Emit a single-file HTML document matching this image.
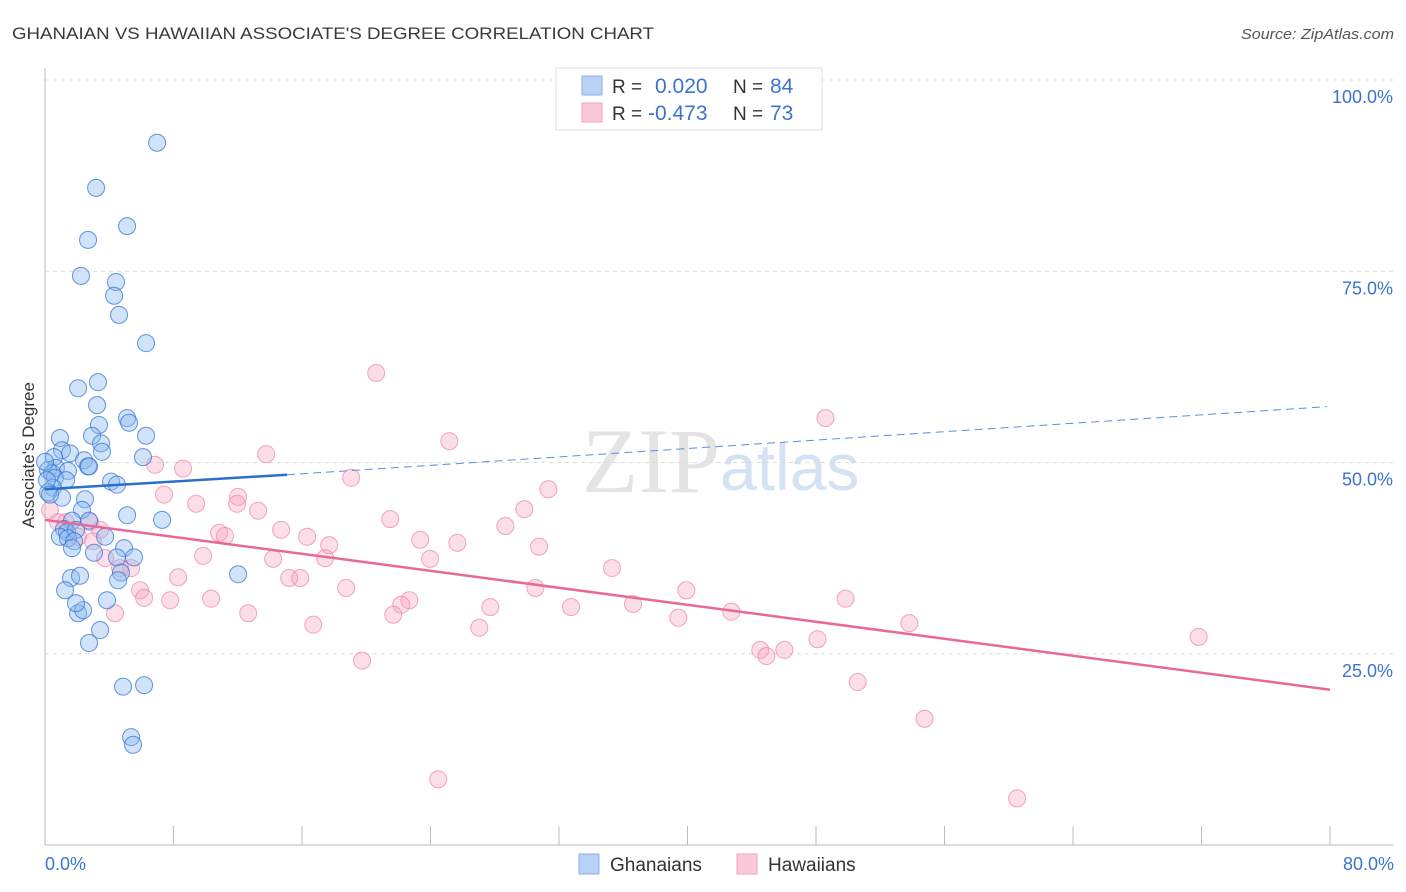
<!DOCTYPE html>
<html><head><meta charset="utf-8"><style>
body{margin:0;background:#fff;font-family:"Liberation Sans",sans-serif;}
#wrap{position:relative;width:1406px;height:892px;overflow:hidden;}
</style></head><body>
<div id="wrap">
<svg id="chart" width="1406" height="892" style="position:absolute;left:0;top:0">
<text x="12" y="39" font-size="17" fill="#3a3a3a" textLength="642" lengthAdjust="spacingAndGlyphs">GHANAIAN VS HAWAIIAN ASSOCIATE'S DEGREE CORRELATION CHART</text>
<text x="1394" y="39" font-size="15" fill="#555" font-style="italic" text-anchor="end" textLength="153" lengthAdjust="spacingAndGlyphs">Source: ZipAtlas.com</text>
<text x="720" y="492" font-size="92" fill="#e4e4e4" text-anchor="end" font-family="Liberation Serif, serif">ZIP</text>
<text x="720" y="490" font-size="66" fill="#d4e2f4">atlas</text>
<g id="grid"></g>
<g id="axes"></g>
<g id="pts"></g>
<g id="trend"></g>
<text x="34" y="455" font-size="17" fill="#333" text-anchor="middle" transform="rotate(-90 34 455)">Associate's Degree</text>
<text x="45" y="870" font-size="18" fill="#3b74d0">0.0%</text>
<text x="1394" y="870" font-size="18" fill="#3b74d0" text-anchor="end">80.0%</text>
<g>
<rect x="556" y="68" width="266" height="62" fill="#fff" stroke="#ddd"/>
<rect x="582" y="76" width="20" height="19" fill="#b8d3f5" stroke="#88b2e8"/>
<rect x="582" y="103" width="20" height="19" fill="#fbc9d9" stroke="#f1a3bd"/>
<text x="612" y="93" font-size="19" fill="#333">R =</text>
<text x="655" y="93" font-size="21" fill="#3b74d0">0.020</text>
<text x="733" y="93" font-size="19" fill="#333">N =</text>
<text x="770" y="93" font-size="21" fill="#3b74d0">84</text>
<text x="612" y="120" font-size="19" fill="#333">R =</text>
<text x="648" y="120" font-size="21" fill="#3b74d0">-0.473</text>
<text x="733" y="120" font-size="19" fill="#333">N =</text>
<text x="770" y="120" font-size="21" fill="#3b74d0">73</text>
</g>
<g>
<rect x="579" y="854" width="20" height="20" fill="#b8d3f5" stroke="#88b2e8"/>
<text x="610" y="871" font-size="19" fill="#333">Ghanaians</text>
<rect x="737" y="854" width="20" height="20" fill="#fbc9d9" stroke="#f1a3bd"/>
<text x="768" y="871" font-size="19" fill="#333">Hawaiians</text>
</g>
</svg>
</div>
<script>
const yTicks=[25,50,75,100];
const yTickLabels=["25.0%","50.0%","75.0%","100.0%"];
const xTicks=[0,8,16,24,32,40,48,56,64,72,80];
const blueX=[6.98,3.18,5.11,2.68,2.24,4.42,4.30,4.61,6.29,2.06,3.30,3.24,5.11,5.23,3.36,2.93,6.29,3.49,0.93,1.06,3.55,1.56,0.56,2.43,6.10,2.68,2.74,0.68,0.19,1.43,0.44,0.62,1.31,4.11,4.48,0.50,0.19,1.06,2.49,5.11,7.29,2.30,1.68,2.74,1.18,1.37,1.93,0.93,1.43,1.81,3.74,1.68,3.05,4.92,5.54,4.48,4.73,4.55,1.62,2.18,1.25,3.86,2.06,2.37,1.93,3.43,2.74,12.02,4.86,6.17,5.36,5.48,0.0,0.12,0.31];
const blueY=[91.8,85.9,80.9,79.1,74.4,73.6,71.8,69.3,65.6,59.7,60.5,57.5,55.8,55.2,54.9,53.5,53.5,52.5,53.2,51.6,51.4,51.2,50.7,50.3,50.7,49.5,49.5,49.3,49.0,48.9,48.6,48.0,47.7,47.5,47.1,46.7,46.1,45.4,45.2,43.1,42.5,43.8,42.4,42.4,41.3,40.9,41.2,40.3,40.1,39.7,40.3,38.8,38.2,38.8,37.6,37.6,35.6,34.6,34.9,35.2,33.3,32.0,30.3,30.7,31.6,28.1,26.4,35.4,20.7,20.9,14.1,13.1,50.1,47.7,45.8];
const pinkX=[20.62,48.59,25.17,13.77,6.85,8.60,19.06,31.34,7.41,12.02,9.41,11.96,29.84,13.27,21.49,28.66,14.70,10.84,11.21,16.32,23.36,25.67,17.69,30.76,9.84,14.20,17.44,23.97,35.30,8.29,15.20,15.89,5.36,3.74,5.92,18.75,30.53,39.93,6.17,7.79,10.34,22.68,22.18,27.72,32.75,36.61,49.84,12.65,4.36,21.68,39.43,42.73,53.81,16.70,27.04,48.09,44.53,46.03,44.91,71.82,19.74,50.59,54.76,24.48,60.52,0.81,1.31,2.80,2.06,3.43,0.31,2.99,4.67];
const pinkY=[61.7,55.8,52.8,51.1,49.7,49.2,48.0,46.5,45.8,45.5,44.6,44.6,43.9,43.7,42.6,41.7,41.2,40.8,40.4,40.3,39.9,39.5,39.2,39.0,37.8,37.4,37.5,37.4,36.2,35.0,34.9,34.9,36.2,37.5,33.3,33.6,33.6,33.3,32.3,32.0,32.2,32.0,31.4,31.1,31.1,31.5,32.2,30.3,30.3,30.1,29.7,30.5,29.0,28.8,28.4,26.9,25.5,25.5,24.7,27.2,24.1,21.3,16.5,8.6,6.1,42.2,42.2,42.2,40.3,41.2,43.8,39.7,36.2];
const blueTrendX=[0,15.07,79.8];
const blueTrendY=[46.5,48.4,57.3];
const pinkTrendX=[0,80];
const pinkTrendY=[42.5,20.3];

const NS="http://www.w3.org/2000/svg";
const X0=45,X1=1330,Y0=845,Y100=80;
function sx(v){return X0+(v/80)*(X1-X0);}
function sy(v){return Y0-(v/100)*(Y0-Y100);}
function mk(tag,attrs,parent){const e=document.createElementNS(NS,tag);for(const k in attrs)e.setAttribute(k,attrs[k]);parent.appendChild(e);return e;}
const grid=document.getElementById('grid'),axes=document.getElementById('axes'),pts=document.getElementById('pts'),trend=document.getElementById('trend');
yTicks.forEach((t,i)=>{
  const l=mk('line',{x1:X0,x2:1393,y1:sy(t),y2:sy(t),stroke:'#dcdcdc','stroke-dasharray':'4,4'},grid);
  
  
  const tx=mk('text',{x:1393,y:sy(t)+23,'font-size':18,fill:'#3b74d0','text-anchor':'end'},grid);
  tx.textContent=yTickLabels[i];
  
  
});
const ax=mk('line',{x1:X0,x2:X0,y1:68,y2:Y0,stroke:'#bbb'},axes);


const bx=mk('line',{x1:X0,x2:1393,y1:Y0,y2:Y0,stroke:'#bbb'},axes);


xTicks.forEach(t=>{
  const l=mk('line',{x1:sx(t),x2:sx(t),y1:826,y2:Y0,stroke:'#bbb'},axes);
  
  
});
pinkX.forEach((v,i)=>{
  const c=mk('circle',{cx:sx(v),cy:sy(pinkY[i]),r:8.5,fill:'rgba(246,160,190,0.35)',stroke:'rgba(236,130,165,0.7)','stroke-width':1},pts);
  
  
});
blueX.forEach((v,i)=>{
  const c=mk('circle',{cx:sx(v),cy:sy(blueY[i]),r:8.5,fill:'rgba(140,185,240,0.4)',stroke:'rgba(50,115,210,0.75)','stroke-width':1},pts);
  
  
});
const bt1=mk('line',{x1:sx(blueTrendX[0]),y1:sy(blueTrendY[0]),x2:sx(blueTrendX[1]),y2:sy(blueTrendY[1]),stroke:'#2a6fd0','stroke-width':2.5},trend);


const bt2=mk('line',{x1:sx(blueTrendX[1]),y1:sy(blueTrendY[1]),x2:sx(blueTrendX[2]),y2:sy(blueTrendY[2]),stroke:'#5b8fd8','stroke-width':1,'stroke-dasharray':'8,5'},trend);


const pt=mk('line',{x1:sx(pinkTrendX[0]),y1:sy(pinkTrendY[0]),x2:sx(pinkTrendX[1]),y2:sy(pinkTrendY[1]),stroke:'#e8689a','stroke-width':2.5},trend);


</script>
</body></html>
